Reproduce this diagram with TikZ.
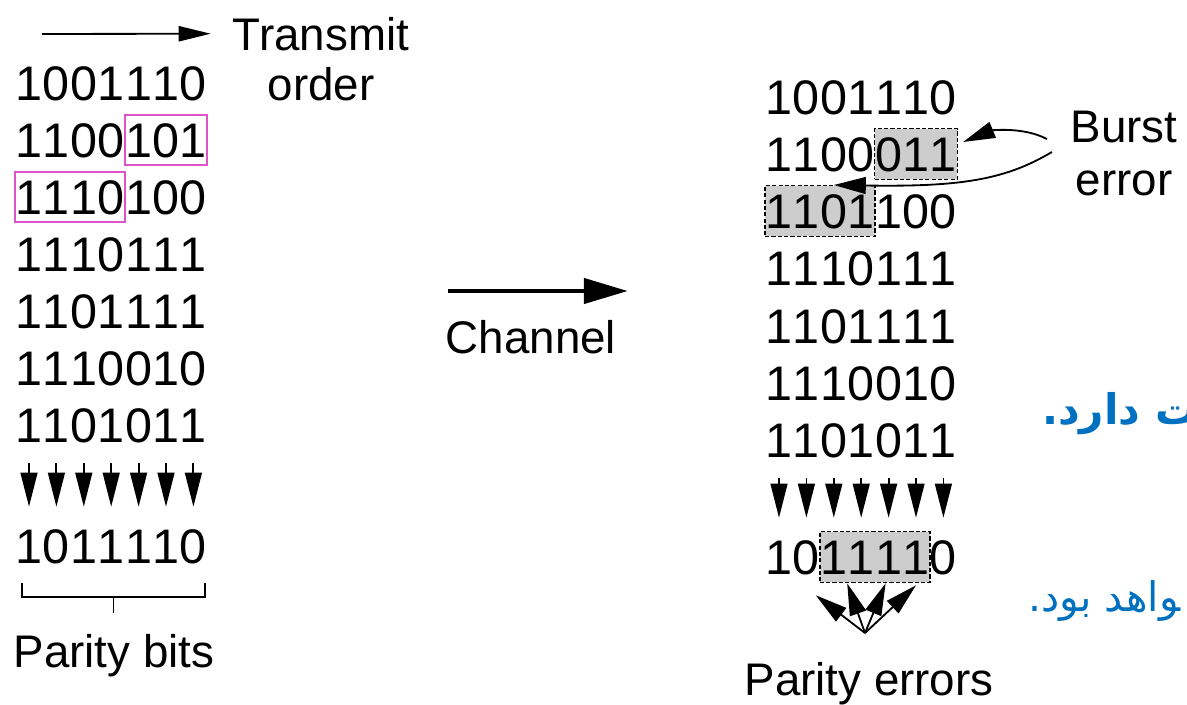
\documentclass[tikz,border=0pt]{standalone}
\usepackage{fontspec}
\setmainfont{Liberation Sans}
\newfontfamily\farsifont[Script=Arabic]{DejaVu Sans}
\TeXXeTstate=1
\usetikzlibrary{arrows.meta,fit,backgrounds}
\definecolor{boxpink}{HTML}{E052C8}
\definecolor{burstgray}{HTML}{CDCDCD}
\definecolor{slideblue}{HTML}{0070C0}

\begin{document}
\begin{tikzpicture}[
    x=0.025cm, y=-0.025cm,
    bit/.style={font=\fontsize{34.5}{40}\selectfont, inner sep=0pt, minimum width=0.685cm, minimum height=1.25cm, text height=24.7pt, text depth=0pt},
    lbl/.style={font=\fontsize{32.5}{38}\selectfont, inner sep=0pt, anchor=base},
    pinkbox/.style={draw=boxpink, line width=1.4pt, inner sep=0pt},
    errbox/.style={draw, dash pattern=on 3pt off 1.5pt, fill=burstgray, line width=1pt, inner sep=0pt},
    parityarrow/.style={-{Triangle[length=0.85cm, width=0.42cm]}, line width=1.3pt, shorten <=0.325cm, shorten >=0.35cm},
    xmitarrow/.style={-{Triangle[length=0.8cm, width=0.38cm]}, line width=1.3pt, shorten >=0.55cm},
    chanarrow/.style={-{Triangle[length=1.1cm, width=0.62cm]}, line width=3.5pt},
    burstarrow/.style={-{Triangle[length=0.8cm, width=0.42cm]}, line width=1.3pt},
    farsi/.style={text=slideblue, inner sep=0pt, anchor=base west},
]
\useasboundingbox (0,0) rectangle (1187,704);

\foreach \r/\y/\bits in {1/83/{1,0,0,1,1,1,0}, 2/140/{1,1,0,0,1,0,1}, 3/197/{1,1,1,0,1,0,0}, 4/254/{1,1,1,0,1,1,1},
    5/311/{1,1,0,1,1,1,1}, 6/368/{1,1,1,0,0,1,0}, 7/425/{1,1,0,1,0,1,1}, 8/546/{1,0,1,1,1,1,0}} {
    \foreach \b [count=\c] in \bits
        \node[bit] (l\r-\c) at ({29+27.4*(\c-1)},\y) {\b};
}
\foreach \r/\y/\bits in {1/97/{1,0,0,1,1,1,0}, 2/154/{1,1,0,0,0,1,1}, 3/211/{1,1,0,1,1,0,0}, 4/268/{1,1,1,0,1,1,1},
    5/326/{1,1,0,1,1,1,1}, 6/383/{1,1,1,0,0,1,0}, 7/440/{1,1,0,1,0,1,1}, 8/557/{1,0,1,1,1,1,0}} {
    \foreach \b [count=\c] in \bits
        \node[bit] (r\r-\c) at ({779+27.4*(\c-1)},\y) {\b};
}

\foreach \c in {1,...,7} {
    \draw[parityarrow] (l7-\c) -- (l8-\c);
    \draw[parityarrow] (r7-\c) -- (r8-\c);
}

\node[pinkbox, fit=(l2-5)(l2-7)] (swap-hi) {};
\node[pinkbox, fit=(l3-1)(l3-4)] (swap-lo) {};

\begin{scope}[on background layer]
    \node[errbox, fit=(r2-5)(r2-7)] (burst-hi) {};
    \node[errbox, fit=(r3-1)(r3-4)] (burst-lo) {};
    \node[errbox, fit=(r8-3)(r8-6)] (par-err) {};
\end{scope}

\node[lbl] (xmit) at (321,50) {Transmit};
\node[lbl] (order) at (321,100) {order};
\coordinate (txstart) at (42,34);
\draw[xmitarrow] (txstart) -- (xmit.west);

\node[lbl] (chan) at (531,353) {Channel};
\draw[chanarrow] ([shift={(2.5,-62)}]chan.base west) -- ([shift={(11.5,-62)}]chan.base east);

\node[lbl] (burst) at (1124,142) {Burst};
\node[lbl] (berr) at (1124,195) {error};
\draw[burstarrow] ([shift={(-23.5,-3)}]burst.base west) .. controls (1022,126) and (990,131) .. ([shift={(5,-12)}]burst-hi.east);
\draw[burstarrow] ([shift={(-18.5,10)}]burst.base west) .. controls (1005,180) and (960,187) .. (burst-lo.north -| r3-3);

\draw[line width=1pt] (22,583) -- (22,597) -- (205,597) -- (205,583) (113.5,597) -- (113.5,613);
\node[lbl] (pbits) at (114,667) {Parity bits};

\node[lbl] (perr) at (869,695) {Parity errors};
\coordinate (pe) at (865,633);
\foreach \c/\dx/\dy in {3/-18/13, 4/-14/1, 5/-3/1, 6/0/3}
    \draw[burstarrow] (pe) -- ([shift={(\dx,\dy)}]r8-\c.south);

\begin{scope}
    \clip (0,0) rectangle (1187,704);
    \node[farsi, font={\farsifont\bfseries\fontsize{30}{36}\selectfont}] (fa1) at (1042,424) {\beginR\char"200D ت دارد.\endR};
    \node[farsi, font={\farsifont\fontsize{29}{35}\selectfont}] (fa2) at (1028,611) {\beginR\char"200D واهد بود.\endR};
\end{scope}
\end{tikzpicture}
\end{document}
